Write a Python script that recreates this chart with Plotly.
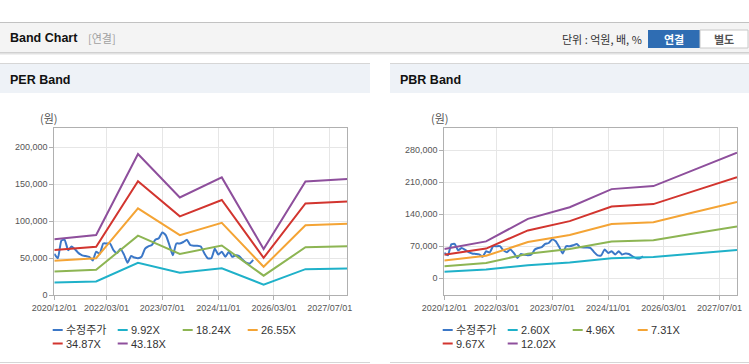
import plotly.graph_objects as go
import pandas as pd

# ---------------- data ----------------
band_dates = ["2020-12-01", "2021-12-01", "2022-12-01", "2023-12-01",
              "2024-12-01", "2025-12-01", "2026-12-01", "2027-12-01"]

price = [56000, 50000, 74000, 75000, 61000, 66000, 62000, 57000, 54000, 53000,
         52000, 47000, 59000, 56000, 70000, 70000, 70000, 61000, 57000, 63000,
         55000, 44000, 53000, 51000, 50000, 52000, 63000, 66000, 68000, 75000,
         77000, 85000, 81000, 68000, 54000, 70000, 70000, 72000, 75000, 68000,
         67000, 67000, 66000, 57000, 50000, 50000, 63000, 55000, 59000, 52000,
         59000, 52000, 54000, 53000, 48000, 44000, 43000, 48000]
price_dates = pd.date_range("2020-12-01", periods=len(price), freq="MS")

per_names = ["9.92X", "18.24X", "26.55X", "34.87X", "43.18X"]
per_992 = [17400, 18700, 43900, 30400, 36600, 14400, 35300, 36100]
per_1824 = [32000, 34400, 80600, 55800, 67300, 26500, 64900, 66300]
per_2655 = [46600, 50100, 117400, 81200, 98000, 38500, 94500, 96500]
per_3487 = [61200, 65700, 154100, 106700, 128700, 50600, 124100, 126800]
per_4318 = [75800, 81400, 190900, 132100, 159300, 62600, 153700, 157000]

pbr_names = ["2.60X", "4.96X", "7.31X", "9.67X", "12.02X"]
pbr_260 = [14000, 19000, 28500, 34500, 43500, 46500, 54000, 61500]
pbr_496 = [26300, 33200, 53600, 64000, 80400, 83100, 98200, 113100]
pbr_731 = [38700, 49000, 79000, 94300, 118400, 122400, 144700, 166700]
pbr_967 = [51300, 64800, 104400, 124700, 156700, 162000, 191500, 220500]
pbr_1202 = [63700, 80500, 129800, 155100, 194700, 201300, 238000, 274100]

tick_dates = ["2020-12-01", "2022-03-01", "2023-07-01", "2024-11-01",
              "2026-03-01", "2027-07-01"]
tick_text = ["2020/12/01", "2022/03/01", "2023/07/01", "2024/11/01",
             "2026/03/01", "2027/07/01"]
per_yticks = [0, 50000, 100000, 150000, 200000]
pbr_yticks = [0, 70000, 140000, 210000, 280000]

price_name = "수정주가"
colors = ["#3b77c7", "#1fb1c9", "#8db553", "#f4a435", "#d2352f", "#8e4f9c"]

# ---------------- figure ----------------
W, H = 749, 364
def px(x):
    return x / W
def py(y):
    return 1 - y / H

fig = go.Figure()

per_bands = [per_992, per_1824, per_2655, per_3487, per_4318]
pbr_bands = [pbr_260, pbr_496, pbr_731, pbr_967, pbr_1202]

for xa, ya, bands, names in [("x", "y", per_bands, per_names),
                             ("x2", "y2", pbr_bands, pbr_names)]:
    fig.add_trace(go.Scatter(x=price_dates, y=price, mode="lines", name=price_name,
                             line=dict(color=colors[0], width=2, shape="spline", smoothing=0.5),
                             xaxis=xa, yaxis=ya, showlegend=False))
    for i, (vals, nm) in enumerate(zip(bands, names)):
        fig.add_trace(go.Scatter(x=band_dates, y=vals, mode="lines", name=nm,
                                 line=dict(color=colors[i + 1], width=2),
                                 xaxis=xa, yaxis=ya, showlegend=False))

tickfont = dict(family="Liberation Sans, Arial, sans-serif", size=9, color="#555555")
axis_common = dict(showgrid=True, gridcolor="#e6e6e6", gridwidth=1,
                   showline=True, linecolor="#b0b0b0", linewidth=1, mirror=True,
                   ticks="outside", ticklen=4, tickcolor="#b0b0b0",
                   tickfont=tickfont, zeroline=False, fixedrange=True,
                   automargin=False)

ydom = [py(295.3), py(128.3)]
fig.update_layout(
    xaxis=dict(domain=[px(54.3), px(347.3)], anchor="y", type="date",
               range=["2020-12-01", "2027-12-01"], tickvals=tick_dates,
               ticktext=tick_text, **axis_common),
    yaxis=dict(domain=ydom, anchor="x", range=[0, 225600],
               tickvals=per_yticks, ticktext=[f"{v:,}" for v in per_yticks],
               **axis_common),
    xaxis2=dict(domain=[px(444.3), px(737)], anchor="y2", type="date",
                range=["2020-12-01", "2027-12-01"], tickvals=tick_dates,
                ticktext=tick_text, **axis_common),
    yaxis2=dict(domain=ydom, anchor="x2", range=[-37300, 327600],
                tickvals=pbr_yticks, ticktext=[f"{v:,}" for v in pbr_yticks],
                **axis_common),
)

shapes = []
def rect(x0, y0, x1, y1, fill, line=None, layer="below"):
    shapes.append(dict(type="rect", xref="paper", yref="paper",
                       x0=px(x0), x1=px(x1), y0=py(y1), y1=py(y0),
                       fillcolor=fill, layer=layer,
                       line=dict(width=1 if line else 0, color=line or fill)))
def hline(x0, x1, y, color, width=1, layer="below"):
    shapes.append(dict(type="line", xref="paper", yref="paper",
                       x0=px(x0), x1=px(x1), y0=py(y), y1=py(y),
                       line=dict(color=color, width=width), layer=layer))

# header bar
rect(0, 23, 749, 52, "#f4f4f4")
hline(0, 749, 22.5, "#c2c2c2")
hline(0, 749, 52.5, "#d0d0d0")
hline(0, 749, 53.5, "#e2e2e2")
hline(0, 749, 54.5, "#f0f0f0")
# panel headers
rect(0, 64, 370, 93, "#eef2f7")
rect(390, 64, 749, 93, "#eef2f7")
hline(0, 370, 63.5, "#d6d6d6")
hline(390, 749, 63.5, "#d6d6d6")
hline(0, 370, 362.5, "#d6d6d6")
hline(390, 749, 362.5, "#d6d6d6")
# buttons
rect(648, 30, 700, 48, "#2f6db3")
rect(700, 30, 748, 48, "#ffffff", line="#c8c8c8")

annotations = []
def text(x, y, s, size=11, color="#333333", anchor="left", bold=False,
         family="Liberation Sans, Noto Sans CJK KR, sans-serif"):
    if bold:
        s = "<b>" + s + "</b>"
    annotations.append(dict(xref="paper", yref="paper", x=px(x), y=py(y),
                            text=s, showarrow=False, xanchor=anchor,
                            yanchor="middle", font=dict(size=size, color=color,
                                                        family=family)))

text(8, 38, "Band Chart", size=12.5, color="#111111", bold=True)
text(86, 38.5, "[연결]", size=11, color="#a0a0a0",
     family="Noto Sans CJK KR, sans-serif")
text(644, 39, "단위 : 억원, 배, %", size=11, color="#333333", anchor="right",
     family="Noto Sans CJK KR, sans-serif")
text(674, 39, "연결", size=11, color="#ffffff", anchor="center", bold=True,
     family="Noto Sans CJK KR, sans-serif")
text(724, 39, "별도", size=11, color="#555555", anchor="center", bold=True,
     family="Noto Sans CJK KR, sans-serif")
text(8, 80, "PER Band", size=12.5, color="#111111", bold=True)
text(398, 80, "PBR Band", size=12.5, color="#111111", bold=True)
text(49, 118, "(원)", size=11, color="#555555", anchor="center",
     family="Noto Sans CJK KR, sans-serif")
text(440, 118, "(원)", size=11, color="#555555", anchor="center",
     family="Noto Sans CJK KR, sans-serif")

# manual legends
def legend(x0, names):
    labels = [price_name] + names
    for i, lab in enumerate(labels):
        row, col = divmod(i, 4)
        lx = x0 + col * 65
        ly = 330 + row * 13.5
        hline(lx, lx + 10, ly, colors[i], width=2, layer="above")
        text(lx + 11, ly, lab, size=11, color="#333333")

legend(52.7, per_names)
legend(442.7, pbr_names)

fig.update_layout(width=W, height=H, autosize=False,
                  margin=dict(l=0, r=0, t=0, b=0, pad=0, autoexpand=False),
                  paper_bgcolor="#ffffff", plot_bgcolor="#ffffff",
                  shapes=shapes, annotations=annotations, showlegend=False)

fig.write_html("out.html", config={"displayModeBar": False, "responsive": False},
               post_script="document.body.style.margin='0';document.body.style.overflow='hidden';")
